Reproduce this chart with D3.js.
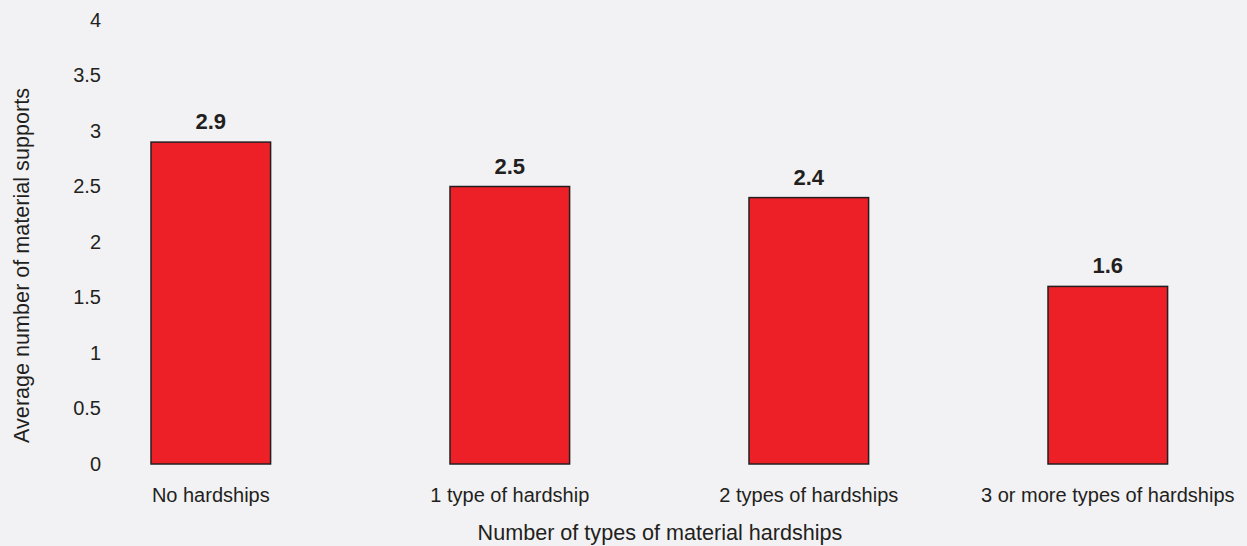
<!DOCTYPE html>
<html><head><meta charset="utf-8">
<script src="https://cdn.jsdelivr.net/npm/d3@7"></script>
<style>
html,body{margin:0;padding:0;background:#f2f2f4;}
svg{display:block;font-family:"Liberation Sans",Arial,Helvetica,sans-serif;}
</style></head>
<body><svg id="chart" width="1247" height="546"></svg>
<script>
const categories = ["No hardships","1 type of hardship","2 types of hardships","3 or more types of hardships"];
const values = [2.9, 2.5, 2.4, 1.6];
const yTicks = [0,0.5,1,1.5,2,2.5,3,3.5,4];
const xTitle = "Number of types of material hardships";
const yTitle = "Average number of material supports";

const svg = d3.select("#chart");
const W = 1247, H = 546;
const FONT = "Liberation Sans, Arial, sans-serif";
svg.append("rect").attr("width",W).attr("height",H).attr("fill","#f2f2f4");

const y = d3.scaleLinear().domain([0,4]).range([464,20]);
const x = d3.scaleBand().domain(categories).range([91.2,1227.4]).paddingInner(0.6).paddingOuter(0.2);

const yAxis = svg.append("g").attr("transform","translate(108,0)")
  .call(d3.axisLeft(y).tickValues(yTicks).tickSize(0).tickPadding(7).tickFormat(d=>String(d)));
yAxis.select(".domain").remove();
yAxis.attr("font-size",20).attr("font-family",FONT);
yAxis.selectAll("text").attr("font-size",20).attr("fill","#231f20");

const xAxis = svg.append("g").attr("transform","translate(0,464)")
  .call(d3.axisBottom(x).tickSize(0).tickPadding(24));
xAxis.select(".domain").remove();
xAxis.attr("font-size",20).attr("font-family",FONT);
xAxis.selectAll("text").attr("font-size",20).attr("fill","#231f20");

svg.append("g").selectAll("rect").data(values).join("rect")
  .attr("x",(d,i)=>x(categories[i]))
  .attr("y",d=>y(d))
  .attr("width",x.bandwidth())
  .attr("height",d=>y(0)-y(d))
  .attr("fill","#ed1f27")
  .attr("stroke","#231f20")
  .attr("stroke-width",1.5);

svg.append("g").selectAll("text").data(values).join("text")
  .attr("x",(d,i)=>x(categories[i])+x.bandwidth()/2)
  .attr("y",d=>y(d)-13)
  .attr("text-anchor","middle")
  .attr("font-size",22).attr("font-weight","bold").attr("fill","#231f20")
  .text(d=>d.toFixed(1));

svg.append("text").attr("x",660).attr("y",540).attr("text-anchor","middle")
  .attr("font-size",21.6).attr("fill","#231f20").text(xTitle);

svg.append("text").attr("transform","translate(29,265.5) rotate(-90)").attr("text-anchor","middle")
  .attr("font-size",21.6).attr("fill","#231f20").text(yTitle);
</script></body></html>
